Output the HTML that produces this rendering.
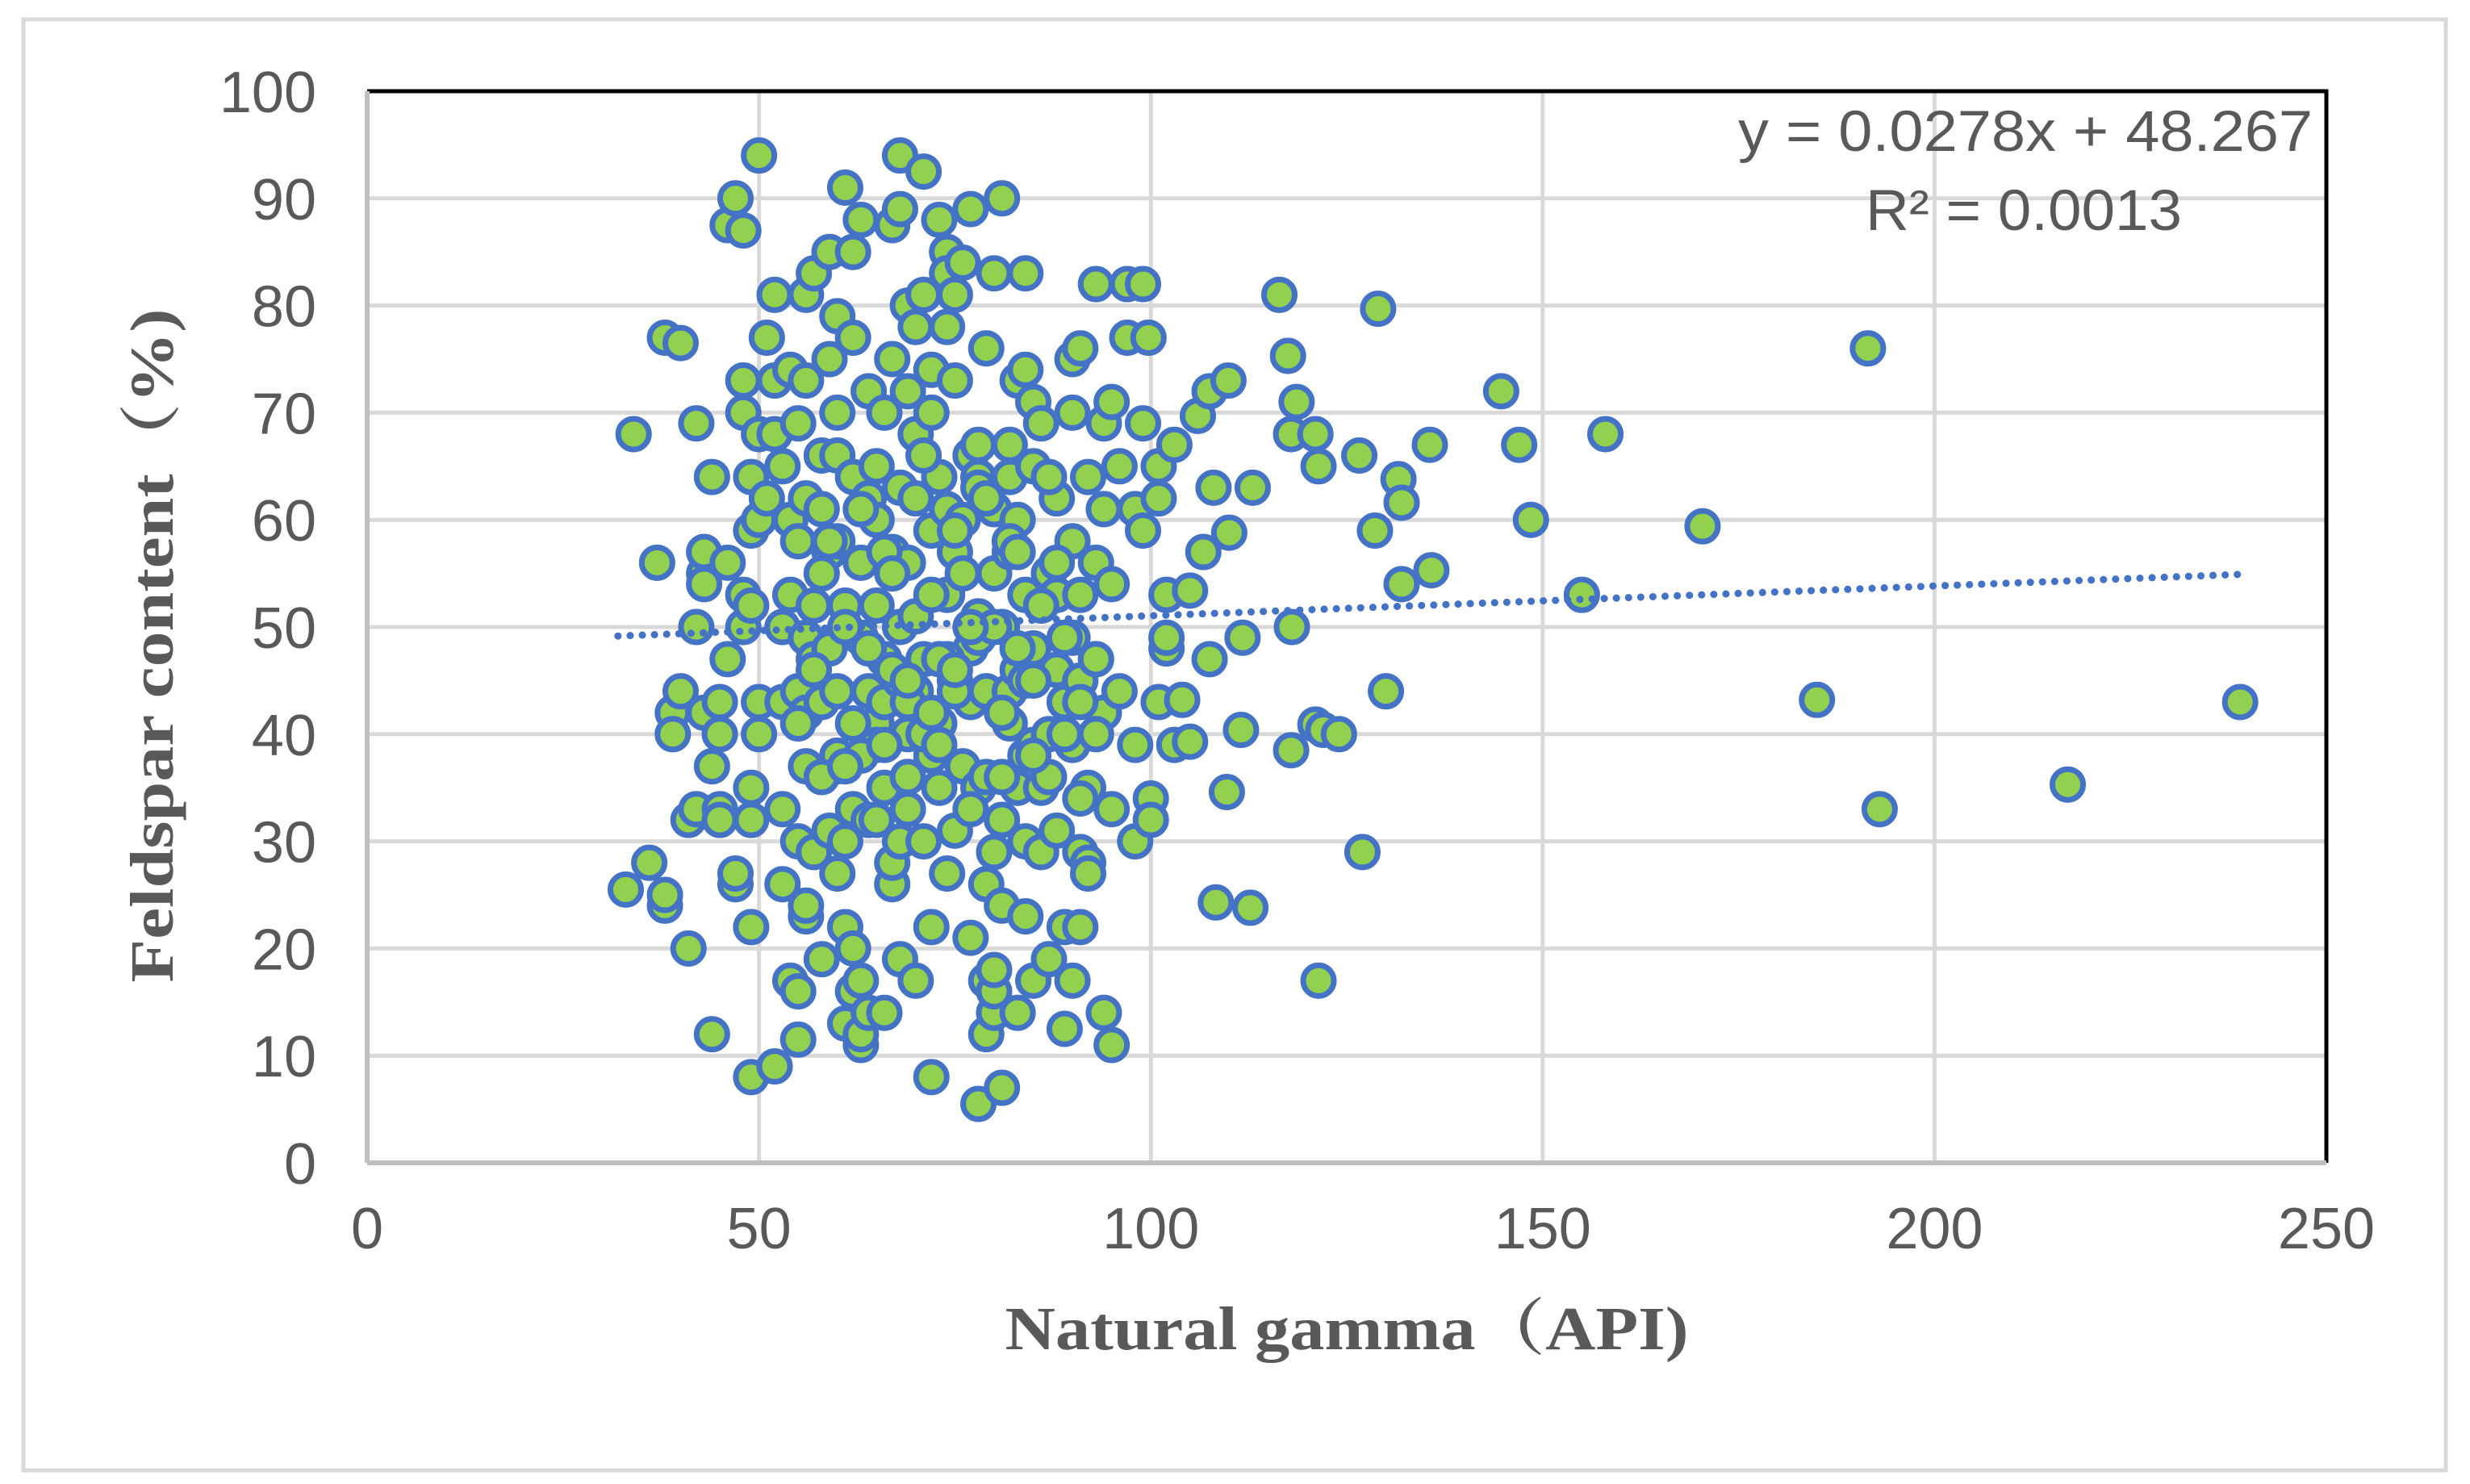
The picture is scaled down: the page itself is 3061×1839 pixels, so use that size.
<!DOCTYPE html>
<html><head><meta charset="utf-8"><style>
html,body{margin:0;padding:0;background:#fff;}
svg{display:block;}
</style></head><body>
<svg id="chart" width="3061" height="1839" viewBox="0 0 3061 1839" xmlns="http://www.w3.org/2000/svg">
<rect x="29" y="24" width="3002" height="1798" fill="#fff" stroke="#d9d9d9" stroke-width="5"/>
<g id="grid"></g>
<g id="axes"></g>
<g id="pts"></g>
<g id="trend"></g>
<text x="2866" y="187" text-anchor="end" font-family="Liberation Sans, sans-serif" font-size="71" fill="#595959" textLength="712" lengthAdjust="spacingAndGlyphs">y = 0.0278x + 48.267</text>
<text x="2508" y="285" text-anchor="middle" font-family="Liberation Sans, sans-serif" font-size="71" fill="#595959" textLength="392" lengthAdjust="spacingAndGlyphs">R² = 0.0013</text>
<text x="1669" y="1672" text-anchor="middle" font-family="Liberation Serif, Noto Serif CJK SC, serif" font-weight="bold" font-size="76" fill="#595959" textLength="847" lengthAdjust="spacingAndGlyphs">Natural gamma（API)</text>
<text transform="translate(214,800) rotate(-90)" x="0" y="0" text-anchor="middle" font-family="Liberation Serif, Noto Serif CJK SC, serif" font-weight="bold" font-size="76" fill="#595959" textLength="835" lengthAdjust="spacingAndGlyphs">Feldspar content（%)</text>
</svg>
<script>
const xTicks=[0,50,100,150,200,250];
const yTicks=[0,10,20,30,40,50,60,70,80,90,100];
const trendSlope=0.0278, trendIntercept=48.267, trendXRange=[32,240];
const xs=[34,33,36,37,38,38,38,39,39,40,40,41,41,42,42,42,43,43,43,43,44,44,44,45,45,45,45,46,46,46,47,47,47,48,48,48,48,48,49,49,49,49,49,49,49,50,50,50,50,50,51,51,52,52,52,52,53,53,53,53,53,54,54,54,54,55,55,55,55,55,55,56,56,56,56,56,56,56,56,57,57,57,57,58,58,58,58,59,59,59,59,59,60,60,60,60,60,60,60,61,61,61,61,61,62,62,62,62,62,62,63,63,63,63,63,63,63,64,64,64,64,64,65,65,65,65,66,66,66,66,66,67,67,67,67,67,68,68,68,68,68,68,69,69,69,69,69,69,70,70,70,70,70,71,71,71,71,72,72,72,72,72,72,73,73,73,73,74,74,74,74,74,74,75,75,75,75,75,76,76,76,77,77,77,77,77,78,78,78,78,78,79,79,79,79,79,80,80,80,80,80,80,80,81,81,81,81,81,82,82,82,82,82,83,83,83,83,83,84,84,84,84,84,84,85,85,85,85,85,86,86,86,87,87,87,88,88,88,88,89,89,89,90,90,90,90,90,90,91,91,91,91,91,92,92,92,92,93,93,93,94,94,94,94,95,95,95,95,96,96,97,97,98,98,98,99,99,99.7,99,100,102,100,101,101,101,102,102,103,103,106,107.5,106.7,107.5,108,105,104,105,109.9,110,109.7,108.3,111.7,111.5,113,112.7,116.4,117.5,118.6,117.9,121,121.4,118,117.9,121,122,124,121.4,126.6,127,129,128.6,130,131.6,132,132,135.6,135.8,144.7,147,148.5,155,158,170.4,185,191.5,193,217,239,57,58,61,64,66,68,70,72,74,76,78,80,82,84,86,88,60,62,65,67,69,71,73,75,77,79,81,83,85,87,89,91,93,55,58,63,66,69,72,75,78,59,63,67,71,75,79,83,87,91,61,65,69,73,77,81,85,89,93,95];
const ys=[68,25.5,28,56,77,24,25,42,40,44,76.5,20,32,33,69,50,55,54,57,42,37,12,64,43,40,33,32,47,87.5,56,90,26,27,87,73,70,50,53,8,22,35,32,64,59,52,94,40,43,60,68,77,62,81,9,68,73,65,50,43,33,26,17,53,60,74,11.5,16,30,44,58,69,23,24,37,42,49,62,73,81,83,47,52,29,19,43,61,66,85,31,48,57,75,79,70,37,27,44,58,66,91,52,22,13,30,77,64,33,20,16,85,88,11,12,49,56,61,17,72,62,44,32,14,41,52,65,60,70,35,47,43,14,75,57,26,28,87.5,89,50,63,30,19,94,80,72,40,33,56,36,44,17,68,62,78,81,47,30,92.5,74,22,8,59,38,70,64,35,41,88,85,78,53,27,61,83,73,57,45,31,81,60,37,84,89,48,66,43,21,5.5,51,35,67,64,76,44,26,17,12,14,16,18,55,29,61,83,90,32,24,50,7,64,67,57,44,41,35,60,73,46,14,23,30,38,53,74,83,71,65,48,39,17,29,69,35,55,19,36,46,62,53,31,43,22,12.5,17,39,49,58,70,75,76,45,29,22,53,64,35,28,27,56,47,82,14,42,69,61,11,33,71,54,44,65,77,82,61,30,39,59,82,77,69,34,48,32,65,62,43,49,53,67,39,69.7,47,57,72,63,53.4,43.2,39.3,73,58.8,34.6,24.3,49,40.4,63,23.8,81,75.3,71,68,68,65,50,38.5,40.9,40.4,40,17,66,29,79.7,59,44,63.8,61.6,54,67,55.3,72,67,60,53,68,59.4,43.2,76,33,35.3,43,46,55,50,48,57,45,51,53,47,55,49,50,58,45,52,56,38,41,39,46,43,40,47,44,50,36,42,48,45,40,49,43,40,41,36,38,39,45,42,46,63,58,61,55,66,59,62,57,64,34,37,32,36,39,33,36,38,40,47];
const L=455,R=2883,T=113,B=1441;
const sx=v=>L+(v-xTicks[0])/(xTicks[xTicks.length-1]-xTicks[0])*(R-L);
const sy=v=>B-(v-yTicks[0])/(yTicks[yTicks.length-1]-yTicks[0])*(B-T);
const NS='http://www.w3.org/2000/svg';
function mk(tag,attrs,parent){const e=document.createElementNS(NS,tag);for(const k in attrs)e.setAttribute(k,attrs[k]);parent.appendChild(e);return e;}
const gridG=document.getElementById('grid'),axesG=document.getElementById('axes'),ptsG=document.getElementById('pts'),trendG=document.getElementById('trend');
yTicks.forEach(t=>{
  if(t>0&&t<100){const g=mk('line',{x1:L,x2:R,y1:sy(t),y2:sy(t),stroke:'#d9d9d9','stroke-width':5},gridG);
  
  }
  const lb=mk('text',{x:392,y:sy(t)+26,'text-anchor':'end','font-family':'Liberation Sans, sans-serif','font-size':72,fill:'#595959'},axesG);
  lb.textContent=t;
  
  
});
xTicks.forEach(t=>{
  if(t>0&&t<250){const g=mk('line',{x1:sx(t),x2:sx(t),y1:T,y2:B,stroke:'#d9d9d9','stroke-width':5},gridG);
  
  }
  const lb=mk('text',{x:sx(t),y:1547,'text-anchor':'middle','font-family':'Liberation Sans, sans-serif','font-size':72,fill:'#595959'},axesG);
  lb.textContent=t;
  
  
});
const frame=mk('path',{d:'M'+L+' '+T+' L'+R+' '+T+' L'+R+' '+B,fill:'none',stroke:'#000','stroke-width':5},axesG);


const ya=mk('line',{x1:L,x2:L,y1:T,y2:B,stroke:'#bfbfbf','stroke-width':6},axesG);


const xa=mk('line',{x1:L,x2:R,y1:B,y2:B,stroke:'#bfbfbf','stroke-width':6},axesG);


const n=Math.min(xs.length,ys.length);
for(let i=0;i<n;i++){
  const c=mk('circle',{cx:sx(xs[i]),cy:sy(ys[i]),r:19,fill:'#92d050',stroke:'#4472c4','stroke-width':7},ptsG);
  
  
}
const tl=mk('line',{x1:sx(trendXRange[0]),y1:sy(trendSlope*trendXRange[0]+trendIntercept),x2:sx(trendXRange[1]),y2:sy(trendSlope*trendXRange[1]+trendIntercept),stroke:'#4472c4','stroke-width':9,'stroke-dasharray':'0.1 15','stroke-linecap':'round'},trendG);


</script>
</body></html>
